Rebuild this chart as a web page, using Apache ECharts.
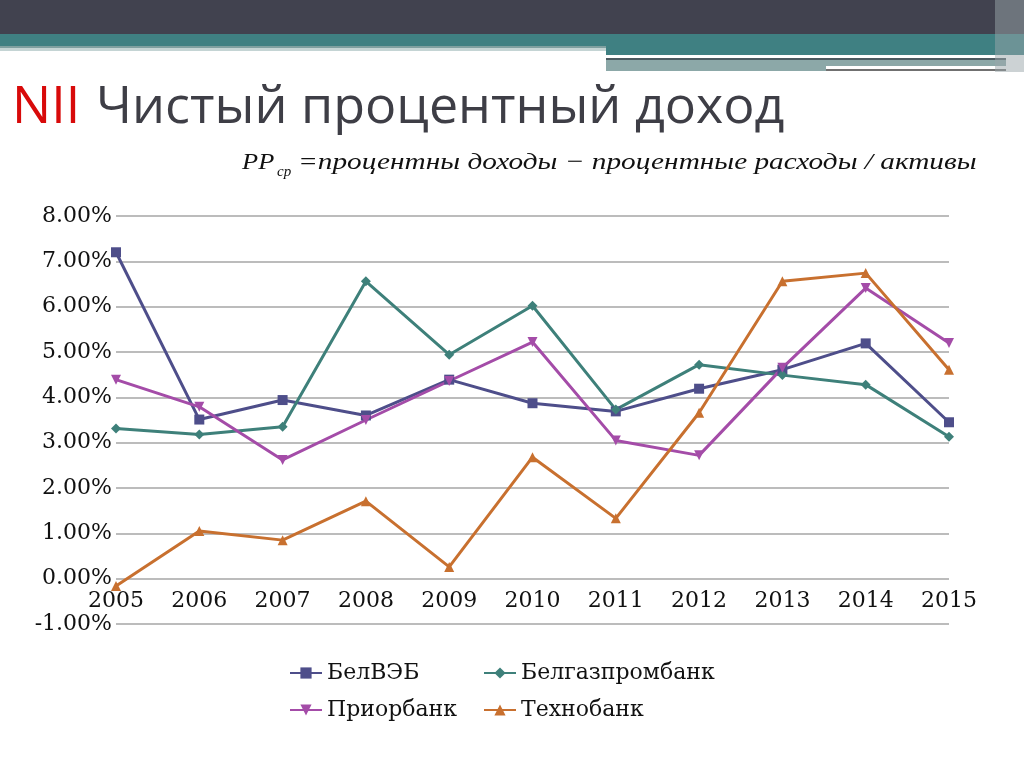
<!DOCTYPE html>
<html><head><meta charset="utf-8">
<script src="https://cdn.jsdelivr.net/npm/echarts@6/dist/echarts.min.js"></script>
<style>html,body{margin:0;padding:0;background:#fff}#c{width:1024px;height:768px}</style>
</head><body><div id="c"></div>
<script>
const years = ['2005','2006','2007','2008','2009','2010','2011','2012','2013','2014','2015'];
const belveb = [7.20,3.51,3.94,3.60,4.39,3.87,3.69,4.19,4.61,5.19,3.45];
const belgazprom = [3.31,3.18,3.35,6.56,4.94,6.02,3.73,4.72,4.49,4.28,3.13];
const prior = [4.39,3.79,2.62,3.50,4.36,5.22,3.05,2.72,4.65,6.41,5.20];
const techno = [-0.16,1.05,0.85,1.71,0.26,2.68,1.33,3.66,6.56,6.74,4.61];
const names = ['БелВЭБ','Белгазпромбанк','Приорбанк','Технобанк'];
const colors = ['#4E4E8A','#3E807A','#A44CA8','#C8702F'];
const symbols = ['rect','diamond','triangle','triangle'];
const rotations = [0,0,180,0];

const chart = echarts.init(document.getElementById('c'));
const serif = '"DejaVu Serif", "Liberation Serif", serif';
const seriesData = [belveb, belgazprom, prior, techno];
const legendPos = [[284,657],[478,657],[284,694],[478,694]];
const gridTop = 216, gridBottom = 144, yMin = -1, yMax = 8;
const plotH = 768 - gridTop - gridBottom;

chart.setOption({
  animation:false,
  backgroundColor:'#fff',
  graphic:[
    {type:'rect',shape:{x:0,y:0,width:1024,height:34},style:{fill:'#41424F'}},
    {type:'rect',shape:{x:0,y:34,width:1024,height:12},style:{fill:'#3F8082'}},
    {type:'rect',shape:{x:0,y:46,width:606,height:2},style:{fill:'#7FA0A0'}},
    {type:'rect',shape:{x:0,y:48,width:606,height:3},style:{fill:'#C4D4D4'}},
    {type:'rect',shape:{x:606,y:46,width:418,height:9},style:{fill:'#3F8082'}},
    {type:'rect',shape:{x:606,y:55,width:400,height:3},style:{fill:'#FFFFFF'}},
    {type:'rect',shape:{x:606,y:58,width:400,height:2},style:{fill:'#4C5A60'}},
    {type:'rect',shape:{x:606,y:60,width:400,height:11},style:{fill:'#8CA8A8'}},
    {type:'rect',shape:{x:826,y:66,width:180,height:3},style:{fill:'#FFFFFF'}},
    {type:'rect',shape:{x:826,y:69,width:180,height:2},style:{fill:'#707070'}},
    {type:'rect',shape:{x:995,y:0,width:29,height:72},style:{fill:'#9AA6AA',opacity:0.5}},
    {type:'text',x:12,y:82,style:{text:'NII',fill:'#D80A0A',font:'52px "Open Sans", Lato, sans-serif'}},
    {type:'text',x:96,y:82,style:{text:'Чистый процентный доход',fill:'#3E3E46',font:'52px "Open Sans", Lato, sans-serif'}},
    {type:'text',x:242,y:151,scaleX:1.1,style:{text:'PP',fill:'#111',font:'italic 24px "Liberation Serif", serif'}},
    {type:'text',x:277,y:165,style:{text:'cp',fill:'#111',font:'italic 15px "Liberation Serif", serif'}},
    {type:'text',x:298,y:151,scaleX:1.22,style:{text:'=процентны доходы − процентные расходы / активы',fill:'#111',font:'italic 24px "Liberation Serif", serif'}}
  ],
  legend: names.map((n,i)=>({
    data:[n], left:legendPos[i][0], top:legendPos[i][1], itemWidth:32, itemHeight:14, itemGap:6,
    textStyle:{fontFamily:serif,fontSize:22,color:'#111'}
  })),
  grid:{left:116,right:75,top:gridTop,bottom:gridBottom},
  xAxis:{type:'category',data:years,boundaryGap:false,position:'bottom',
    offset: -plotH * (0 - yMin) / (yMax - yMin),
    axisLine:{show:false,onZero:false},axisTick:{show:false},
    axisLabel:{fontFamily:serif,fontSize:22,color:'#111',margin:12}},
  yAxis:{type:'value',min:yMin,max:yMax,interval:1,
    axisLine:{show:false},axisTick:{show:false},
    axisLabel:{fontFamily:serif,fontSize:22,color:'#111',margin:4,formatter:v=>v.toFixed(2)+'%'},
    splitLine:{lineStyle:{color:'#A6A6A6',width:1.5}}},
  series: seriesData.map((d,i)=>({
    name:names[i],type:'line',data:d,
    symbol:symbols[i],symbolRotate:rotations[i],symbolSize:10,
    itemStyle:{color:colors[i]},lineStyle:{color:colors[i],width:3}
  }))
});
</script></body></html>
